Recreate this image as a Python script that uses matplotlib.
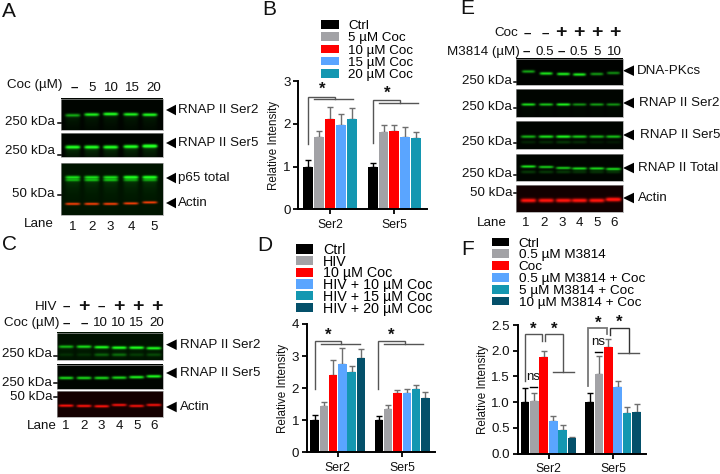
#!/usr/bin/python

import numpy as np
import matplotlib
matplotlib.use("Agg")
import matplotlib.pyplot as plt
from matplotlib.patches import Polygon

plt.rcParams["font.family"] = ["Liberation Sans", "DejaVu Sans"]

W, H = 720, 474

groups = ["Ser2", "Ser5"]

colorsB = ["#000000", "#a2a2a6", "#ff0000", "#5aa5ff", "#1497b1"]
colorsD = ["#000000", "#a2a2a6", "#ff0000", "#5aa5ff", "#1497b1", "#04506a"]

labelsB = ["Ctrl", "5 µM Coc", "10 µM Coc", "15 µM Coc", "20 µM Coc"]
ser2B = [1.0, 1.7, 2.1, 1.98, 2.1]
ser2Berr = [0.15, 0.13, 0.3, 0.25, 0.28]
ser5B = [1.0, 1.81, 1.84, 1.7, 1.66]
ser5Berr = [0.09, 0.15, 0.13, 0.23, 0.15]

labelsD = ["Ctrl", "HIV", "10 µM Coc", "HIV + 10 µM Coc", "HIV + 15 µM Coc", "HIV + 20 µM Coc"]
ser2D = [1.0, 1.44, 2.42, 2.74, 2.5, 2.94]
ser2Derr = [0.15, 0.14, 0.45, 0.5, 0.2, 0.27]
ser5D = [1.0, 1.34, 1.85, 1.84, 1.98, 1.69]
ser5Derr = [0.12, 0.12, 0.1, 0.12, 0.13, 0.19]

labelsF = ["Ctrl", "0.5 µM M3814", "Coc", "0.5 µM M3814 + Coc", "5 µM M3814 + Coc", "10 µM M3814 + Coc"]
ser2F = [1.0, 1.02, 1.87, 0.63, 0.46, 0.3]
ser2Ferr = [0.27, 0.16, 0.12, 0.1, 0.09, 0.02]
ser5F = [1.0, 1.55, 2.08, 1.29, 0.8, 0.81]
ser5Ferr = [0.18, 0.35, 0.15, 0.12, 0.11, 0.15]

GREEN = np.array([0.12, 1.0, 0.12])
RED = np.array([1.0, 0.08, 0.05])
ORANGE = np.array([1.0, 0.16, 0.03])

# lane centres of the blots
lanesA = [72.7, 91.7, 110.7, 131, 150]
lanesC = [66, 84, 101.7, 119.3, 136.7, 154]
lanesE = [528.3, 546, 563.3, 579.3, 596.7, 613.3]

fig = plt.figure(figsize=(W / 100, H / 100), dpi=100)
ov = fig.add_axes([0, 0, 1, 1])
ov.axis("off")


def txt(x, y, s, size=9.6, ha="left", **kw):
	ov.text(x, y, s, fontsize=size, ha=ha, va="center", color="#111111", **kw)


def star(x, y):
	txt(x, y + 1.5, "*", size=12, ha="center", fontweight="bold")


def blot(box, lanes, bands, bg=(0.0, 0.02, 0.0), bandw=7.5):
	x0, x1, y0, y1 = box
	nx, ny = int((x1 - x0) * 3), int((y1 - y0) * 3)
	xx = np.linspace(x0, x1, nx)
	yy = np.linspace(y0, y1, ny)
	X, Y = np.meshgrid(xx, yy)
	img = np.ones((ny, nx, 3)) * np.array(bg)
	for ypos, sig, col, smear, vals in bands:
		if np.isscalar(ypos):
			ypos = [ypos] * len(lanes)
		for lx, ly, v in zip(lanes, ypos, vals):
			hor = np.exp(-((X - lx) / bandw) ** 6)
			ver = np.exp(-((Y - ly) / sig) ** 2)
			tail = (Y > ly) * np.exp(-(Y - ly) / 9.0) * smear
			img += (hor * (ver * v + tail))[:, :, None] * col
	ov.imshow(np.clip(img, 0, 1), extent=(x0, x1, y1, y0), aspect="auto", origin="upper", interpolation="bilinear")
	ov.plot([x0, x1, x1, x0, x0], [y0, y0, y1, y1, y0], color="#999999", lw=0.5)


def arrow(x0, x1, y):
	ov.add_patch(Polygon([(x0, y), (x1, y - 5.3), (x1, y + 5.3)], closed=True, color="black", lw=0))


def kda(items, tick):
	for right, y, s in items:
		txt(right, y, s, ha="right")
	for a, b, y in tick:
		ov.plot([a, b], [y, y], color="black", lw=1.1)


def bracket(pts, color="#555555", lw=1.0):
	pts = np.array(pts)
	ov.plot(pts[:, 0], pts[:, 1], color=color, lw=lw, solid_joinstyle="miter")


def barpanel(x0, x1, ybot, ytop, ymax, ticks, fmt, step, c1, sep, colors, labels, s2, e2, s5, e5, leg, legfont, legsp):
	ax = fig.add_axes([x0 / W, 1 - ybot / H, (x1 - x0) / W, (ybot - ytop) / H])
	n = len(colors)
	center = (n - 1) / 2.0
	for g, (vals, errs) in enumerate([(s2, e2), (s5, e5)]):
		for i in range(n):
			xp = (c1 - x0) / step + g * sep / step + i - center
			ax.bar(xp, vals[i], 0.92, color=colors[i], label=labels[i] if g == 0 else None, zorder=2)
			ec = "black" if i == 0 else "#6f6f6f"
			ax.errorbar(xp, vals[i], yerr=[[0], [errs[i]]], ecolor=ec, elinewidth=1.0, capsize=2.3, capthick=1.0, fmt="none", zorder=1)
	ax.set_xlim(0, (x1 - x0) / step)
	ax.set_ylim(0, ymax)
	ax.set_yticks(ticks)
	ax.set_yticklabels([fmt.format(t) for t in ticks], fontsize=9.6, color="#111111")
	ax.set_xticks([(c1 - x0) / step, (c1 - x0 + sep) / step])
	ax.set_xticklabels(groups, fontsize=8.8, color="#111111")
	ax.set_ylabel("Relative Intensity", fontsize=8.4, labelpad=2, color="#111111")
	ax.spines["top"].set_visible(False)
	ax.spines["right"].set_visible(False)
	ax.spines["left"].set_linewidth(1.4)
	ax.spines["bottom"].set_linewidth(1.4)
	ax.tick_params(width=1.3, length=3.5, pad=2)
	ax.tick_params(axis="x", pad=3.5)
	ax.patch.set_alpha(0)
	ax.legend(loc="upper left", bbox_to_anchor=leg, bbox_transform=ov.transData, frameon=False,
		fontsize=legfont, borderpad=0, borderaxespad=0, labelspacing=legsp,
		handlelength=17.3 / (legfont / 0.72), handleheight=0.62, handletextpad=0.7)
	return ax


ov.set_xlim(0, W)
ov.set_ylim(H, 0)

# panel letters
for x, y, s in [(2, 11, "A"), (262.7, 9, "B"), (2, 244, "C"), (257, 245.7, "D"), (460, 8, "E"), (461.7, 249, "F")]:
	txt(x, y, s, size=15)

# A
txt(7, 85, "Coc (µM)")
for lx, s in zip([74, 91.7, 111, 132, 154], ["–", "5", "10", "15", "20"]):
	txt(lx, 88, s, ha="center", fontweight="bold" if s == "–" else "normal")
blot((61, 163, 98.7, 130), lanesA, [([115.5, 114.8, 114.3, 114.6, 115], 1.5, GREEN, 0.12, [0.6, 0.9, 1.0, 0.9, 0.95])])
blot((61, 163, 133, 157), lanesA, [([147, 147, 147, 146.5, 146], 1.7, GREEN, 0.2, [1.0, 1.0, 1.0, 1.0, 1.2])])
blot((61, 163, 163, 215), lanesA, [
	(177, 1.5, GREEN, 0.2, [0.7, 0.7, 0.7, 0.95, 0.95]),
	(180, 1.3, GREEN, 0.0, [0.5, 0.55, 0.55, 0.45, 0.45]),
	([204, 204, 204, 203.5, 202.5], 1.2, ORANGE, 0.0, [1.0, 1.0, 1.0, 1.0, 1.0]),
], bg=(0.0, 0.08, 0.0))
for y, s in [(110, "RNAP II Ser2"), (143, "RNAP II Ser5"), (178, "p65 total"), (203, "Actin")]:
	arrow(166, 176, y)
	txt(178, y, s)
kda([(55, 122, "250 kDa"), (55, 151, "250 kDa"), (55, 194, "50 kDa")], [(58, 61, 123), (58, 61, 155), (58, 61, 195)])
txt(24, 224, "Lane")
for lx, s in zip([72.7, 91.7, 110.7, 131.7, 153.7], "12345"):
	txt(lx, 227, s, ha="center")

# C
txt(57, 306.7, "HIV", ha="right")
for lx, s in zip([66, 84, 101.7, 119.3, 137.7, 156.7], "-+-+++"):
	if s == "+":
		txt(lx, 306.5, s, size=14, ha="center", fontweight="bold")
	else:
		txt(lx, 306.7, "–", ha="center", fontweight="bold")
txt(4, 323, "Coc (µM)")
for lx, s in zip([66.5, 84, 100.7, 118.7, 136.7, 156.7], ["–", "–", "10", "10", "15", "20"]):
	txt(lx, 323.3, s, ha="center", fontweight="bold" if s == "–" else "normal")
blot((57, 163, 332.7, 360), lanesC, [
	([347, 347, 347.5, 348, 348, 348.5], 1.4, GREEN, 0.05, [0.65, 0.8, 0.95, 1.0, 1.0, 0.95]),
	(355, 1.5, GREEN, 0.0, [0.1, 0.1, 0.3, 0.35, 0.15, 0.2]),
], bg=(0.0, 0.07, 0.0))
blot((57, 163, 364.7, 389), lanesC, [([378.3, 378.3, 378.3, 378, 377.5, 376.7], 1.4, GREEN, 0.0, [0.85, 0.85, 0.85, 0.85, 0.95, 1.0])])
blot((57, 163, 391, 417), lanesC, [([405.7, 406, 406.3, 405, 406, 405], 1.3, RED, 0.0, [0.95, 0.95, 0.95, 0.9, 0.9, 0.9])], bg=(0.08, 0.0, 0.0))
for y, s in [(344.7, "RNAP II Ser2"), (373, "RNAP II Ser5"), (407, "Actin")]:
	arrow(166, 176.7, y)
	txt(179.5, y, s)
kda([(52, 354, "250 kDa"), (52, 383, "250 kDa"), (52.5, 396.7, "50 kDa")], [(54, 57, 356), (54, 57, 383), (54, 57, 397)])
txt(26.7, 426.3, "Lane")
for lx, s in zip(lanesC, "123456"):
	txt(lx, 426.3, s, ha="center")

# E
txt(518, 33, "Coc", ha="right")
for lx, s in zip([527.3, 545.3, 561, 579, 596.7, 615], "--++++"):
	if s == "+":
		txt(lx, 32.5, s, size=14, ha="center", fontweight="bold")
	else:
		txt(lx, 34, "–", ha="center", fontweight="bold")
txt(520, 52, "M3814 (µM)", ha="right")
for lx, s in zip([526.7, 545, 561.7, 579.3, 596.7, 614], ["–", "0.5", "–", "0.5", "5", "10"]):
	txt(lx, 52, s, ha="center", fontweight="bold" if s == "–" else "normal")
blot((516, 622.7, 58.7, 85.3), lanesE, [([72, 74, 74.5, 75, 74.5, 73.5], 1.4, GREEN, 0.0, [0.65, 0.9, 0.95, 0.95, 0.6, 0.55])], bg=(0, 0.01, 0), bandw=6.5)
blot((516, 622.7, 89, 117), lanesE, [(104.5, 1.3, GREEN, 0.03, [0.85, 0.75, 0.95, 0.55, 0.6, 0.55])], bandw=7)
blot((516, 622.7, 121, 148.7), lanesE, [
	(136.5, 1.4, GREEN, 0.0, [0.7, 0.9, 1.0, 0.8, 0.7, 0.75]),
	(142, 1.6, GREEN, 0.0, [0.12, 0.15, 0.2, 0.15, 0.08, 0.08]),
], bandw=7.5)
blot((516, 622.7, 154, 181), lanesE, [
	([166.5, 167, 168, 168.5, 168.5, 169], 1.3, GREEN, 0.0, [0.9, 0.8, 0.8, 0.85, 0.85, 0.85]),
	(172, 1.6, GREEN, 0.0, [0.2, 0.2, 0.2, 0.18, 0.18, 0.18]),
], bandw=7.5)
blot((516, 622.7, 185, 212), lanesE, [([200.5, 200.5, 200.5, 200.5, 200.5, 199.5], 2.0, RED, 0.0, [1.0, 1.0, 1.0, 1.0, 1.0, 1.1])], bg=(0.07, 0.0, 0.0), bandw=7.8)
for y, x, s in [(70.7, 636.7, "DNA-PKcs"), (103, 638.7, "RNAP II Ser2"), (135, 639.7, "RNAP II Ser5"), (168, 638.5, "RNAP II Total"), (198, 638, "Actin")]:
	arrow(623, 634, y)
	txt(x, y, s)
kda([(512, 81, "250 kDa"), (512, 107, "250 kDa"), (512, 142, "250 kDa"), (512, 174, "250 kDa"), (512, 193, "50 kDa")],
	[(514, 516, 82), (514, 516, 108), (514, 516, 143), (514, 516, 175), (514, 516, 193)])
txt(476.7, 222.7, "Lane")
for lx, s in zip([525.7, 544, 562.3, 579.3, 597, 614], "123456"):
	txt(lx, 222.7, s, ha="center")

# bar panels
barpanel(298.3, 427, 209.3, 81, 3, [0, 1, 2, 3], "{:d}", 10.83, 330, 64.33, colorsB, labelsB, ser2B, ser2Berr, ser5B, ser5Berr, (321.3, 20), 9.6, 0.02)
barpanel(306.7, 435, 452.3, 324, 4, [0, 1, 2, 3, 4], "{:d}", 9.27, 337.8, 64.33, colorsD, labelsD, ser2D, ser2Derr, ser5D, ser5Derr, (296, 243), 10.3, -0.16)
barpanel(517.7, 645.7, 453.7, 325, 2.5, [0, 0.5, 1, 1.5, 2, 2.5], "{:.1f}", 9.4, 548.5, 64.5, colorsD, labelsF, ser2F, ser2Ferr, ser5F, ser5Ferr, (492, 237.5), 9.7, -0.02)

# significance marks, B
bracket([(308, 144), (308, 97), (335, 97), (335, 99.3)])
bracket([(314, 99.3), (353.3, 99.3)])
bracket([(372.7, 143.3), (372.7, 100), (400, 100), (400, 103)])
bracket([(379, 103), (418.3, 103)])
star(321.7, 88)
star(386.7, 91.5)

# significance marks, D
bracket([(314.7, 389), (314.7, 341.3), (341.3, 341.3), (341.3, 344)])
bracket([(321, 344), (360, 344)])
bracket([(377.7, 389), (377.7, 341.3), (404.7, 341.3), (404.7, 344)])
bracket([(384, 344), (423.3, 344)])
star(328, 333.5)
star(391, 333.5)

# significance marks, F
bracket([(525, 380.7), (525, 334), (542.3, 334), (542.3, 340.7)])
bracket([(545.3, 341.3), (545.3, 334), (562.7, 334), (562.7, 371.7)])
bracket([(552.7, 371.7), (574, 371.7)])
bracket([(588.3, 385.7), (588.3, 328), (607, 328), (607, 334)], color="#777777", lw=1.3)
bracket([(610.3, 335), (610.3, 328), (628.7, 328), (628.7, 353.3)], color="#333333")
bracket([(618, 353.3), (638.7, 353.3)], color="#555555")
star(532.7, 328)
star(553.7, 327.3)
star(597.7, 321.3)
star(619.3, 320.7)
txt(532.7, 376.7, "ns", ha="center")
txt(598, 341.7, "ns", ha="center")
bracket([(530, 387), (537.3, 387)], color="black")
bracket([(595, 352.3), (602.3, 352.3)], color="black")

fig.savefig("out.png", dpi=100)
